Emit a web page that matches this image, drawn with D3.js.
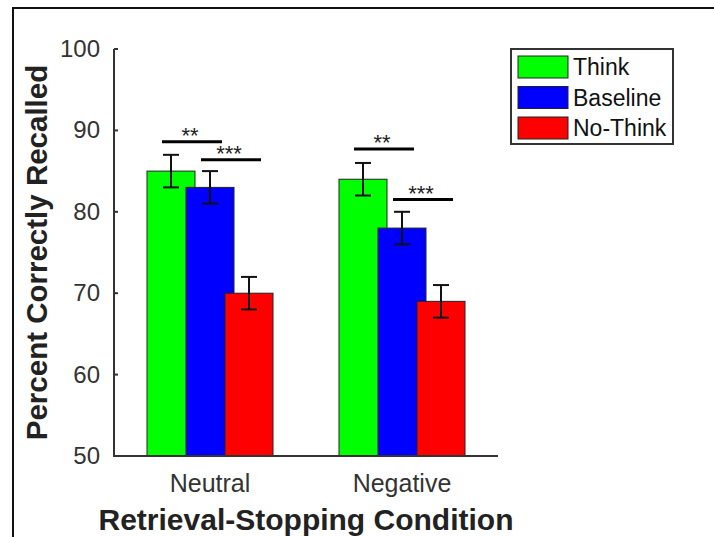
<!DOCTYPE html>
<html>
<head>
	<title>Percent Correctly Recalled</title>
	<meta charset='utf-8'>
	<style>
		body { margin: 0; background: #fff; }
		svg { font-family: 'Liberation Sans', Arial, sans-serif; }
		.axis-line { stroke: #333; stroke-width: 2px; fill: none; }
		.tick-label { fill: #333; font-size: 24px; }
		.cat-label { fill: #333; font-size: 25px; }
		.title { fill: #222; font-size: 30px; font-weight: bold; }
		.bar { stroke: #222; stroke-width: 1px; }
		.err { stroke: #111; stroke-width: 2px; }
		.sig { stroke: #000; stroke-width: 3px; }
		.star { font-size: 22px; fill: #222; }
		.legend-text { font-size: 23px; fill: #111; }
	</style>
</head>
<body>

<script src='https://d3js.org/d3.v7.min.js'></script>
<script>
	'use strict';
	// данные
	const categories = ['Neutral', 'Negative'];
	const series = ['Think', 'Baseline', 'No-Think'];
	const colors = ['#00ff00', '#0000ff', '#ff0000'];
	const means = {
		'Think':    [85, 84],
		'Baseline': [83, 78],
		'No-Think': [70, 69]
	};
	const errors = {
		'Think':    [2, 2],
		'Baseline': [2, 2],
		'No-Think': [2, 2]
	};
	const yTicks = [50, 60, 70, 80, 90, 100];
	const sigGroups = ['Neutral', 'Neutral', 'Negative', 'Negative'];
	const sigFrom = ['Think', 'Baseline', 'Think', 'Baseline'];
	const sigTo = ['Baseline', 'No-Think', 'Baseline', 'No-Think'];
	const sigLevel = [88.6, 86.4, 87.7, 81.5];
	const sigLabels = ['**', '***', '**', '***'];

	const W = 714, H = 537;
	const plot = {left: 114, right: 498, top: 49, bottom: 456};

	const svg = d3.select('body').append('svg')
		.attr('width', W)
		.attr('height', H);

	// рамка вокруг картинки
	svg.append('rect')
		.attr('x', 13).attr('y', 8)
		.attr('width', 800).attr('height', 600)
		.attr('fill', 'none')
		.attr('stroke', '#111')
		.attr('stroke-width', 2);

	const xScale = d3.scaleBand().domain(categories).range([plot.left, plot.right]);
	const offset = d3.scalePoint().domain(series).range([-39, 39]);
	const barWidth = 48;
	const yScale = d3.scaleLinear().domain([50, 100]).range([plot.bottom, plot.top]);

	const rows = [];
	series.forEach(function(s, si) {
		categories.forEach(function(c, ci) {
			rows.push({series: s, cat: c, value: means[s][ci], err: errors[s][ci], color: colors[si]});
		});
	});
	const cx = function(d) { return xScale(d.cat) + xScale.bandwidth() / 2 + offset(d.series); };

	// столбцы (порядок серий важен — перекрываются)
	svg.selectAll('.bar')
		.data(rows)
		.enter()
		.append('rect')
		.attr('class', 'bar')
		.attr('x', function(d) { return cx(d) - barWidth / 2; })
		.attr('width', barWidth)
		.attr('y', function(d) { return yScale(d.value); })
		.attr('height', function(d) { return plot.bottom - yScale(d.value); })
		.attr('fill', function(d) { return d.color; });

	// усы
	const eb = svg.selectAll('.eb').data(rows).enter().append('g').attr('class', 'eb');
	eb.append('line').attr('class', 'err')
		.attr('x1', cx).attr('x2', cx)
		.attr('y1', function(d) { return yScale(d.value + d.err); })
		.attr('y2', function(d) { return yScale(d.value - d.err); });
	eb.append('line').attr('class', 'err')
		.attr('x1', function(d) { return cx(d) - 8; }).attr('x2', function(d) { return cx(d) + 8; })
		.attr('y1', function(d) { return yScale(d.value + d.err); })
		.attr('y2', function(d) { return yScale(d.value + d.err); });
	eb.append('line').attr('class', 'err')
		.attr('x1', function(d) { return cx(d) - 8; }).attr('x2', function(d) { return cx(d) + 8; })
		.attr('y1', function(d) { return yScale(d.value - d.err); })
		.attr('y2', function(d) { return yScale(d.value - d.err); });

	// оси
	svg.append('line').attr('class', 'axis-line')
		.attr('x1', plot.left).attr('x2', plot.left)
		.attr('y1', plot.top).attr('y2', plot.bottom + 1);
	svg.append('line').attr('class', 'axis-line')
		.attr('x1', plot.left).attr('x2', plot.right)
		.attr('y1', plot.bottom).attr('y2', plot.bottom);

	svg.selectAll('.ytick')
		.data(yTicks)
		.enter()
		.append('line')
		.attr('class', 'axis-line ytick')
		.attr('x1', plot.left).attr('x2', plot.left + 4)
		.attr('y1', function(d) { return yScale(d); })
		.attr('y2', function(d) { return yScale(d); });

	svg.selectAll('.ylabel')
		.data(yTicks)
		.enter()
		.append('text')
		.attr('class', 'tick-label')
		.attr('x', plot.left - 14)
		.attr('y', function(d) { return yScale(d) + 8; })
		.attr('text-anchor', 'end')
		.text(function(d) { return d; });

	svg.selectAll('.xlabel')
		.data(categories)
		.enter()
		.append('text')
		.attr('class', 'cat-label')
		.attr('x', function(d) { return xScale(d) + xScale.bandwidth() / 2; })
		.attr('y', 492)
		.attr('text-anchor', 'middle')
		.text(function(d) { return d; });

	svg.append('text')
		.attr('class', 'title')
		.attr('x', (plot.left + plot.right) / 2)
		.attr('y', 530)
		.attr('text-anchor', 'middle')
		.text('Retrieval-Stopping Condition');

	svg.append('text')
		.attr('class', 'title')
		.style('font-size', '29.5px')
		.attr('transform', 'translate(47,' + (plot.top + plot.bottom) / 2 + ') rotate(-90)')
		.attr('text-anchor', 'middle')
		.text('Percent Correctly Recalled');

	// значимость
	const sig = sigGroups.map(function(g, i) {
		const c = xScale(g) + xScale.bandwidth() / 2;
		return {x1: c + offset(sigFrom[i]) - 9, x2: c + offset(sigTo[i]) + 12, y: yScale(sigLevel[i]), label: sigLabels[i]};
	});
	svg.selectAll('.sig')
		.data(sig)
		.enter()
		.append('line')
		.attr('class', 'sig')
		.attr('x1', function(d) { return d.x1; })
		.attr('x2', function(d) { return d.x2; })
		.attr('y1', function(d) { return d.y; })
		.attr('y2', function(d) { return d.y; });
	svg.selectAll('.star')
		.data(sig)
		.enter()
		.append('text')
		.attr('class', 'star')
		.attr('x', function(d) { return (d.x1 + d.x2) / 2 - 2; })
		.attr('y', function(d) { return d.y + 1; })
		.attr('text-anchor', 'middle')
		.text(function(d) { return d.label; });

	// легенда
	const legend = svg.append('g').attr('transform', 'translate(511,49)');
	legend.append('rect')
		.attr('width', 162).attr('height', 95)
		.attr('fill', '#fff')
		.attr('stroke', '#333')
		.attr('stroke-width', 2);
	const item = legend.selectAll('.item')
		.data(series)
		.enter()
		.append('g')
		.attr('transform', function(d, i) { return 'translate(7,' + (7 + i * 30.5) + ')'; });
	item.append('rect')
		.attr('width', 50).attr('height', 22)
		.attr('fill', function(d, i) { return colors[i]; })
		.attr('stroke', '#222');
	item.append('text')
		.attr('class', 'legend-text')
		.attr('x', 55)
		.attr('y', 19)
		.text(function(d) { return d; });
</script>
</body>
</html>
